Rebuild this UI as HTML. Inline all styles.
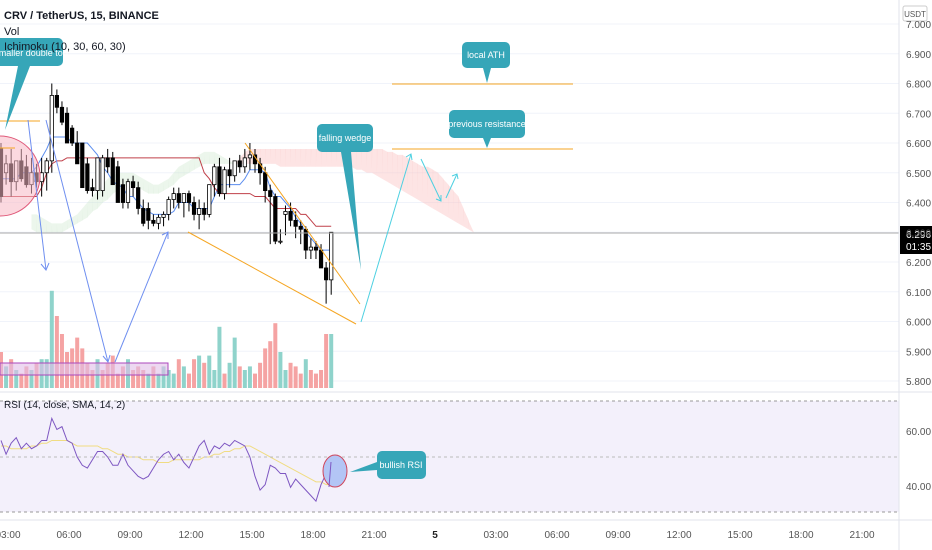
<!DOCTYPE html>
<html><head><meta charset="utf-8"><style>
html,body{margin:0;background:#fff;font-family:"Liberation Sans",sans-serif;overflow:hidden;width:932px;height:550px}
svg{display:block}
svg text{font-family:"Liberation Sans",sans-serif}
</style></head><body>
<svg id="c" width="932" height="550" xmlns="http://www.w3.org/2000/svg">
<rect x="0" y="0" width="932" height="550" fill="#fff"/>
<g id="grid"></g>
<rect x="0" y="401" width="899" height="111" fill="#f3f0fb"/>
<g id="cloud"></g>
<g id="vol"></g>
<g id="ichi"></g>
<g id="candles"></g>
<g id="rsi"></g>
<g id="anno"></g>
<g id="axes"></g>
</svg>
<script>
const NS="http://www.w3.org/2000/svg";
// ---- data ----
const opens =[6.58,6.50,6.53,6.47,6.54,6.52,6.46,6.50,6.47,6.50,6.54,6.76,6.72,6.70,6.65,6.60,6.60,6.53,6.45,6.44,6.44,6.55,6.55,6.52,6.46,6.40,6.47,6.45,6.38,6.38,6.34,6.33,6.35,6.36,6.41,6.43,6.40,6.43,6.40,6.36,6.38,6.36,6.46,6.52,6.43,6.51,6.49,6.54,6.52,6.55,6.56,6.53,6.50,6.44,6.42,6.27,6.36,6.37,6.34,6.32,6.31,6.24,6.25,6.24,6.18,6.14];
const highs =[6.60,6.56,6.58,6.54,6.58,6.56,6.55,6.53,6.55,6.55,6.80,6.78,6.74,6.72,6.66,6.64,6.60,6.55,6.48,6.47,6.56,6.58,6.57,6.54,6.48,6.48,6.49,6.47,6.41,6.40,6.36,6.36,6.37,6.42,6.45,6.45,6.43,6.44,6.42,6.41,6.40,6.46,6.53,6.55,6.52,6.55,6.54,6.56,6.58,6.60,6.58,6.55,6.52,6.46,6.43,6.31,6.39,6.40,6.37,6.34,6.32,6.28,6.27,6.26,6.20,6.30];
const lows  =[6.40,6.46,6.42,6.44,6.47,6.45,6.43,6.45,6.42,6.44,6.50,6.70,6.66,6.62,6.59,6.55,6.50,6.43,6.42,6.41,6.42,6.50,6.49,6.43,6.38,6.38,6.42,6.36,6.32,6.31,6.32,6.31,6.32,6.34,6.38,6.38,6.35,6.37,6.34,6.31,6.34,6.35,6.42,6.42,6.41,6.45,6.47,6.50,6.50,6.51,6.50,6.46,6.40,6.26,6.26,6.26,6.29,6.32,6.28,6.26,6.21,6.21,6.21,6.18,6.06,6.09];
const closes=[6.42,6.53,6.47,6.54,6.48,6.46,6.50,6.47,6.50,6.54,6.76,6.72,6.67,6.60,6.60,6.53,6.45,6.44,6.44,6.55,6.55,6.52,6.46,6.40,6.40,6.47,6.45,6.38,6.33,6.34,6.33,6.35,6.36,6.41,6.43,6.40,6.43,6.40,6.36,6.38,6.36,6.46,6.52,6.43,6.51,6.49,6.54,6.52,6.55,6.56,6.53,6.50,6.44,6.42,6.27,6.27,6.37,6.34,6.32,6.31,6.24,6.25,6.24,6.18,6.14,6.30];
const volumes=[20,12,16,10,8,12,10,14,16,16,54,40,30,20,22,28,22,14,10,16,10,14,18,8,12,16,10,12,10,8,12,8,12,10,8,16,12,8,16,18,14,18,10,34,8,14,28,12,10,12,8,14,22,26,36,20,10,14,12,8,16,10,8,10,30,30];
const volUp =[0,1,0,1,0,0,1,0,1,1,1,0,0,0,0,0,0,0,0,1,0,0,0,0,0,1,0,0,0,1,0,1,1,1,1,0,1,0,0,1,0,1,1,1,0,1,1,0,1,1,0,0,0,0,0,1,1,0,0,0,1,0,0,0,0,1];
const tenkan=[6.48,6.48,6.48,6.48,6.50,6.50,6.50,6.52,6.55,6.58,6.62,6.62,6.62,6.62,6.60,6.60,6.60,6.60,6.58,6.56,6.52,6.50,6.47,6.46,6.45,6.42,6.42,6.40,6.38,6.37,6.36,6.36,6.36,6.36,6.37,6.40,6.40,6.40,6.38,6.38,6.38,6.38,6.42,6.46,6.46,6.46,6.46,6.46,6.48,6.51,6.51,6.51,6.50,6.45,6.42,6.42,6.40,6.38,6.35,6.33,6.30,6.28,6.26,6.24,6.24,6.24];
const kijun =[6.42,6.42,6.42,6.42,6.42,6.42,6.42,6.42,6.45,6.50,6.53,6.54,6.54,6.55,6.55,6.55,6.55,6.55,6.55,6.55,6.55,6.55,6.55,6.55,6.55,6.55,6.55,6.55,6.55,6.55,6.55,6.55,6.55,6.55,6.55,6.55,6.55,6.55,6.55,6.55,6.50,6.48,6.45,6.43,6.43,6.43,6.43,6.43,6.43,6.43,6.42,6.42,6.42,6.40,6.38,6.38,6.38,6.38,6.38,6.36,6.36,6.34,6.32,6.32,6.32,6.32];
// cloud spans (start 6 bars in, continue into the future)
const spanA=[6.36,6.36,6.35,6.34,6.33,6.33,6.33,6.34,6.35,6.36,6.38,6.40,6.42,6.44,6.46,6.48,6.49,6.50,6.50,6.50,6.50,6.49,6.48,6.47,6.46,6.46,6.47,6.48,6.50,6.52,6.53,6.54,6.55,6.56,6.57,6.57,6.57,6.56,6.55,6.54,6.53,6.53,6.53,6.53,6.53,6.53,6.53,6.53,6.53,6.52,6.52,6.52,6.52,6.52,6.52,6.52,6.52,6.52,6.52,6.52,6.52,6.52,6.52,6.52,6.51,6.51,6.50,6.50,6.49,6.48,6.47,6.46,6.45,6.44,6.43,6.42,6.41,6.40,6.39,6.38,6.37,6.36,6.35,6.34,6.33,6.32,6.31,6.30];
const spanB=[6.31,6.30,6.30,6.30,6.30,6.30,6.30,6.31,6.32,6.33,6.34,6.35,6.37,6.38,6.40,6.41,6.43,6.44,6.45,6.46,6.46,6.45,6.44,6.43,6.43,6.43,6.44,6.45,6.46,6.48,6.49,6.50,6.51,6.52,6.53,6.53,6.53,6.53,6.53,6.53,6.53,6.55,6.57,6.58,6.58,6.58,6.58,6.58,6.58,6.58,6.58,6.58,6.58,6.58,6.58,6.58,6.58,6.58,6.58,6.58,6.58,6.58,6.58,6.58,6.58,6.58,6.58,6.58,6.58,6.58,6.57,6.57,6.56,6.56,6.55,6.54,6.53,6.52,6.52,6.51,6.50,6.48,6.46,6.44,6.42,6.38,6.34,6.30];
const rsiVals=[56,51,55,57,53,55,53,54,56,56,64,60,61,56,55,50,47,46,49,52,52,50,47,47,51,47,45,43,42,43,46,49,51,52,49,51,48,46,50,54,56,51,54,53,55,54,56,55,54,50,43,38,40,47,46,44,44,39,42,40,38,36,34,40,44,49];
const rsiSma=[54,54,53,53,53,53,54,54,55,55,56,56,56,56,55,54,54,54,54,54,53,53,52,51,51,50,50,50,49,49,49,48,48,48,49,49,49,49,49,49,50,50,51,51,52,52,53,53,54,54,53,52,51,50,49,48,47,46,45,44,43,42,41,41,40,40];
const priceTicks=["7.000","6.900","6.800","6.700","6.600","6.500","6.400","6.300","6.200","6.100","6.000","5.900","5.800"];
const timeLabels=["03:00","06:00","09:00","12:00","15:00","18:00","21:00","5","03:00","06:00","09:00","12:00","15:00","18:00","21:00"];
// ---- scales ----
const X0=1, STEP=5.08, CLOUD_START=6;
const xi=i=>X0+i*STEP;
const yp=p=>24+(7-p)*297.5;
const yr=r=>457-(r-50)*2.76;
const yv=v=>388-v*1.8;
function el(t,a,par){const e=document.createElementNS(NS,t);for(const k in a)e.setAttribute(k,a[k]);(par||document.getElementById('c')).appendChild(e);return e;}
const G=id=>document.getElementById(id);
// grid
priceTicks.forEach((t,k)=>{const p=parseFloat(t);const y=yp(p);
 const l=el('line',{x1:0,x2:899,y1:y,y2:y,stroke:'#f0f3fa'},G('grid'));
 
 
 const tx=el('text',{x:906,y:y+4,'font-size':10,fill:'#555'},G('axes'));tx.textContent=t;
 
 
});
timeLabels.forEach((t,k)=>{const x=8+k*61;
 const tx=el('text',{x:x,y:538,'font-size':10,fill:t==='5'?'#222':'#555','font-weight':t==='5'?'bold':'normal','text-anchor':'middle'},G('axes'));tx.textContent=t;
 
 
});
// cloud (segment per step, green if A>B else red)
for(let i=0;i<spanA.length-1;i++){
 const x1=xi(i+CLOUD_START),x2=xi(i+1+CLOUD_START);
 const green=(spanA[i]+spanA[i+1])>=(spanB[i]+spanB[i+1]);
 const q=el('polygon',{points:`${x1},${yp(spanA[i])} ${x2},${yp(spanA[i+1])} ${x2+0.4},${yp(spanB[i+1])} ${x1},${yp(spanB[i])}`,fill:green?'#c8e6c9':'#fbc4c4',opacity:green?0.35:0.45},G('cloud'));
 
 
}
// volume
volumes.forEach((v,i)=>{const r=el('rect',{x:xi(i)-2,y:yv(v),width:4,height:388-yv(v),fill:volUp[i]?'#8fd3cb':'#f5a3a3'},G('vol'));
 
 });
// ichimoku lines
[[tenkan,'#5b8def','tenkan-line'],[kijun,'#c0404a','kijun-line']].forEach(([arr,col,nm])=>{
 const p=el('polyline',{points:arr.map((v,i)=>xi(i)+','+yp(v)).join(' '),fill:'none',stroke:col,'stroke-width':1},G('ichi'));
 
 });
// candles
closes.forEach((c,i)=>{const o=opens[i],x=xi(i);const up=c>=o;
 const w=el('line',{x1:x,x2:x,y1:yp(highs[i]),y2:yp(lows[i]),stroke:'#000','stroke-width':1},G('candles'));
 
 
 const t=yp(Math.max(o,c)),b=yp(Math.min(o,c));
 const r=el('rect',{x:x-1.7,y:t,width:3.4,height:Math.max(1,b-t),fill:up?'#fff':'#000',stroke:'#000','stroke-width':0.8},G('candles'));
 
 });
// rsi
[[rsiSma,'#f0dc82','rsi-sma-line'],[rsiVals,'#7e57c2','rsi-line']].forEach(([arr,col,nm])=>{
 const p=el('polyline',{points:arr.map((v,i)=>xi(i)+','+yr(v)).join(' '),fill:'none',stroke:col,'stroke-width':1},G('rsi'));
 
 });
</script>
<script>
const A=document.getElementById('anno');
A.innerHTML=`
<line x1="0" y1="233" x2="899" y2="233" stroke="#aaa" stroke-width="1"/>
<line x1="0" y1="392" x2="932" y2="392" stroke="#e0e3eb"/>
<line x1="0" y1="520" x2="932" y2="520" stroke="#e0e3eb"/>
<line x1="899" y1="0" x2="899" y2="550" stroke="#e0e3eb"/>
<line x1="0" y1="401" x2="899" y2="401" stroke="#999" stroke-dasharray="3,3"/>
<line x1="0" y1="457" x2="899" y2="457" stroke="#bbb" stroke-dasharray="3,3"/>
<line x1="0" y1="512" x2="899" y2="512" stroke="#999" stroke-dasharray="3,3"/>
<text x="906" y="435" font-size="10" fill="#555">60.00</text>
<text x="906" y="490" font-size="10" fill="#555">40.00</text>
<rect x="903" y="6" width="24" height="15" rx="2" fill="#fff" stroke="#ccc"/>
<text x="915" y="17" font-size="8" fill="#555" text-anchor="middle">USDT</text>
<rect x="900" y="226" width="32" height="28" fill="#000"/>
<text x="906" y="238" font-size="10" fill="#fff">6.296</text>
<text x="906" y="250" font-size="10" fill="#fff">01:35</text>
<circle cx="0" cy="176" r="40" fill="#f8b8c4" fill-opacity="0.55" stroke="#e05a7a"/>
<line x1="0" y1="121" x2="40" y2="121" stroke="#f5a623"/>
<line x1="0" y1="148" x2="15" y2="148" stroke="#f5a623"/>
<rect x="0" y="363" width="168" height="12" fill="#e1bee7" fill-opacity="0.6" stroke="#ab47bc"/>
<g stroke="#6f8ff0" stroke-width="1" fill="none">
<line x1="28" y1="120" x2="46" y2="270"/><polyline points="41,264 46,270 49,263"/>
<line x1="46" y1="120" x2="108" y2="362"/><polyline points="103,356 108,362 110,355"/>
<line x1="115" y1="362" x2="168" y2="232"/><polyline points="162,235 168,232 168,239"/>
</g>
<g stroke="#f5a623" stroke-width="1">
<line x1="245" y1="143" x2="360" y2="304"/><line x1="188" y1="232" x2="356" y2="324"/>
<line x1="392" y1="84" x2="573" y2="84"/><line x1="392" y1="149" x2="573" y2="149"/>
</g>
<g stroke="#4dd0e1" stroke-width="1" fill="none">
<line x1="361" y1="322" x2="411" y2="154"/><polyline points="406,157 411,154 412,160"/>
<line x1="421" y1="159" x2="441" y2="201"/><polyline points="436,199 441,201 441,195"/>
<line x1="446" y1="198" x2="457" y2="174"/><polyline points="452,176 457,174 458,179"/>
</g>
<g fill="#36a6b8">
<path d="M0,38 H58 a5,5 0 0 1 5,5 V61 a5,5 0 0 1 -5,5 H30 L5,130 L18,66 H0 Z"/>
<path d="M322,124 H368 a5,5 0 0 1 5,5 V147 a5,5 0 0 1 -5,5 H351 L361,270 L341,152 H322 a5,5 0 0 1 -5,-5 V129 a5,5 0 0 1 5,-5 Z"/>
<path d="M467,42 H505 a5,5 0 0 1 5,5 V63 a5,5 0 0 1 -5,5 H491 L487,83 L483,68 H467 a5,5 0 0 1 -5,-5 V47 a5,5 0 0 1 5,-5 Z"/>
<path d="M454,110 H520 a5,5 0 0 1 5,5 V133 a5,5 0 0 1 -5,5 H491 L487,148 L483,138 H454 a5,5 0 0 1 -5,-5 V115 a5,5 0 0 1 5,-5 Z"/>
<path d="M382,451 H421 a5,5 0 0 1 5,5 V474 a5,5 0 0 1 -5,5 H382 a5,5 0 0 1 -5,-5 V470 L350,472 L377,462 V456 a5,5 0 0 1 5,-5 Z"/>
</g>
<g fill="#fff" font-size="9" text-anchor="middle">
<text x="31" y="56">smaller double top</text>
<text x="345" y="141">falling wedge</text>
<text x="486" y="58">local ATH</text>
<text x="487" y="127">previous resistance</text>
<text x="401" y="468">bullish RSI</text>
</g>
<ellipse cx="335" cy="471" rx="12" ry="16" fill="#b3c5f5" stroke="#d0455a"/>
<line x1="329" y1="487" x2="331" y2="462" stroke="#7e57c2"/>
<text x="4" y="19" font-size="11" font-weight="bold" fill="#131722">CRV / TetherUS, 15, BINANCE</text>
<text x="4" y="35" font-size="11" fill="#131722">Vol</text>
<text x="4" y="50" font-size="11" fill="#131722">Ichimoku (10, 30, 60, 30)</text>
<text x="4" y="408" font-size="10" fill="#131722">RSI (14, close, SMA, 14, 2)</text>
`;
</script>
</body></html>
